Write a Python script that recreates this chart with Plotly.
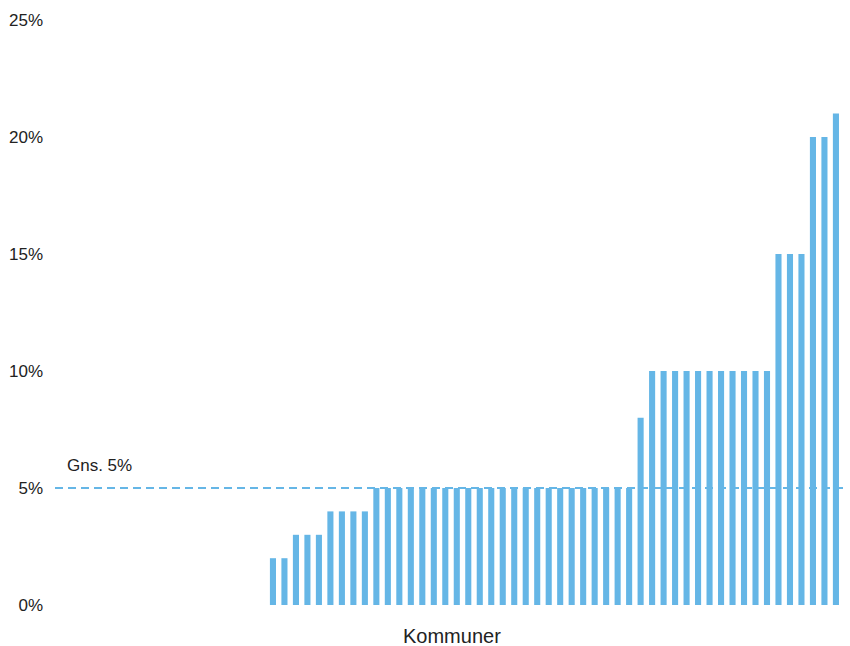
import plotly.graph_objects as go

# andel pr. kommune (kun kommuner med værdi > 0), sorteret stigende
kommune_nr = list(range(1, 51))
andel = (
    [0.02] * 2
    + [0.03] * 3
    + [0.04] * 4
    + [0.05] * 23
    + [0.08] * 1
    + [0.10] * 11
    + [0.15] * 3
    + [0.20] * 2
    + [0.21] * 1
)
gennemsnit = 0.05
y_ticks = [0, 0.05, 0.10, 0.15, 0.20, 0.25]

blue = "#65b6e6"

fig = go.Figure()

fig.add_trace(
    go.Bar(
        x=kommune_nr,
        y=andel,
        marker=dict(color=blue, line=dict(width=0)),
        width=0.53,
        hoverinfo="y",
    )
)

fig.add_shape(
    type="line",
    xref="paper",
    yref="y",
    x0=0,
    x1=1,
    y0=gennemsnit,
    y1=gennemsnit,
    line=dict(color=blue, width=2, dash="8px,5px"),
    layer="above",
)

fig.add_annotation(
    xref="paper",
    yref="y",
    x=0.012,
    y=gennemsnit,
    yshift=23,
    xanchor="left",
    text=f"Gns. {gennemsnit:.0%}",
    showarrow=False,
    font=dict(size=17, color="#222222"),
)

# x-aksens titel som annotation under plotområdet
fig.add_annotation(
    xref="paper",
    yref="paper",
    x=0.5,
    y=0,
    yshift=-31,
    yanchor="middle",
    text="Kommuner",
    showarrow=False,
    font=dict(size=20, color="#222222"),
)

fig.update_layout(
    width=850,
    height=646,
    margin=dict(l=55, r=2, t=20, b=41),
    plot_bgcolor="white",
    paper_bgcolor="white",
    font=dict(family="Liberation Sans, Arial, sans-serif", size=17, color="#222222"),
    showlegend=False,
    xaxis=dict(
        range=[-17.97, 51.05],
        showticklabels=False,
        showgrid=False,
        zeroline=False,
        showline=False,
        ticks="",
        automargin=False,
    ),
    yaxis=dict(
        range=[0, 0.25],
        tickvals=y_ticks,
        tickformat=".0%",
        showgrid=False,
        zeroline=False,
        showline=False,
        ticks="",
        automargin=False,
        ticklabelstandoff=11,
    ),
)

# siden har 8px body-margin som standard; fjern den så figuren sidder i hjørnet
fig.write_html(
    "out.html",
    config={"displayModeBar": False},
    post_script="document.body.style.margin='0';",
)
